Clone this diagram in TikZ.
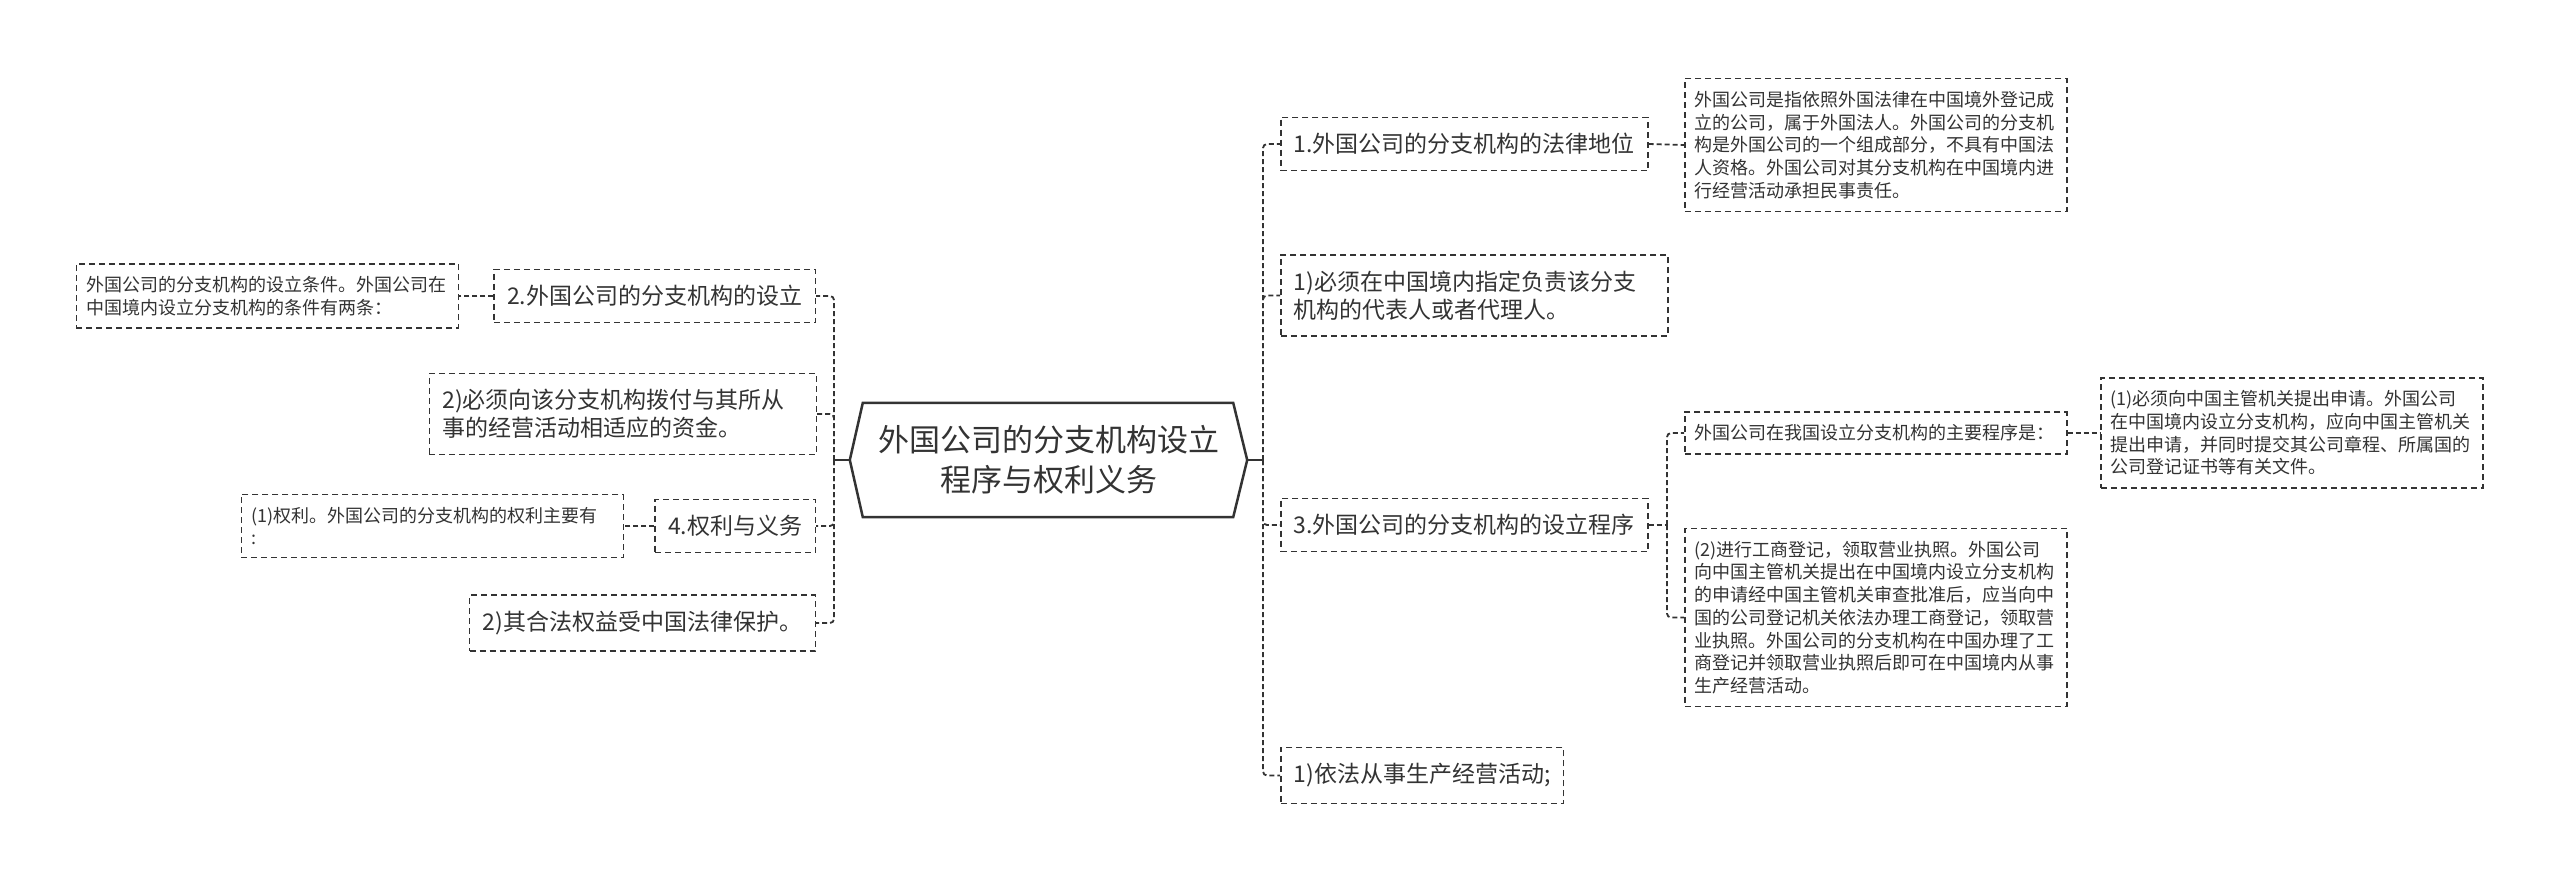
\documentclass[tikz,border=0pt]{standalone}
\usepackage{fontspec}
\setmainfont{Noto Sans CJK SC}
\usetikzlibrary{calc}
\definecolor{ink}{HTML}{333333}
\definecolor{edgecol}{HTML}{333333}
\begin{document}
\begin{tikzpicture}[x=1pt,y=-1pt,
  big/.style={draw=edgecol, line width=1.5pt, dash pattern=on 6pt off 4pt, inner xsep=13pt, inner ysep=16pt, font=\fontsize{23}{28}\selectfont, text=ink, align=left},
  bigw/.style={big, text width=361pt},
  small/.style={draw=edgecol, line width=1.5pt, dash pattern=on 6pt off 4pt, inner xsep=10pt, inner ysep=12.5pt, font=\fontsize{18}{22.7}\selectfont, text=ink, align=left},
  smallw/.style={small, text width=362pt},
  conn/.style={draw=edgecol, line width=1.8pt, dash pattern=on 5pt off 3pt, rounded corners=4pt},
  solidconn/.style={draw=edgecol, line width=2pt}
]
\useasboundingbox (0,0) rectangle (2560,881);
\fill[white] (0,0) rectangle (2560,881);

% root
\node[minimum width=397pt, minimum height=114pt, inner sep=0pt, align=center, text=ink,
  font=\fontsize{31}{40}\selectfont] (root) at (1048.5,460) {外国公司的分支机构设立\\程序与权利义务};
\draw[edgecol, line width=2.5pt, line join=miter]
  (root.west) -- ($(root.north west)+(13,0)$) -- ($(root.north east)+(-14,0)$) -- (root.east)
  -- ($(root.south east)+(-14,0)$) -- ($(root.south west)+(13,0)$) -- cycle;

% right side
\node[big, anchor=west] (n1) at (1280,144) {1.外国公司的分支机构的法律地位};
\node[smallw, anchor=west] (d1) at (1684,145) {外国公司是指依照外国法律在中国境外登记成\\立的公司，属于外国法人。外国公司的分支机\\构是外国公司的一个组成部分，不具有中国法\\人资格。外国公司对其分支机构在中国境内进\\行经营活动承担民事责任。};
\node[bigw, anchor=west] (r2) at (1280,295.5) {1)必须在中国境内指定负责该分支\\机构的代表人或者代理人。};
\node[big, anchor=west] (n3) at (1280,525) {3.外国公司的分支机构的设立程序};
\node[smallw, anchor=west] (s3a) at (1684,433) {外国公司在我国设立分支机构的主要程序是：};
\node[smallw, anchor=west] (d3a) at (2100,433) {(1)必须向中国主管机关提出申请。外国公司\\在中国境内设立分支机构，应向中国主管机关\\提出申请，并同时提交其公司章程、所属国的\\公司登记证书等有关文件。};
\node[smallw, anchor=west] (s3b) at (1684,617.5) {(2)进行工商登记，领取营业执照。外国公司\\向中国主管机关提出在中国境内设立分支机构\\的申请经中国主管机关审查批准后，应当向中\\国的公司登记机关依法办理工商登记，领取营\\业执照。外国公司的分支机构在中国办理了工\\商登记并领取营业执照后即可在中国境内从事\\生产经营活动。};
\node[big, anchor=west] (r4) at (1280,775.5) {1)依法从事生产经营活动;};

% left side
\node[big, anchor=east] (n2) at (816,296) {2.外国公司的分支机构的设立};
\node[smallw, anchor=east] (d2) at (459,296) {外国公司的分支机构的设立条件。外国公司在\\中国境内设立分支机构的条件有两条：};
\node[bigw, anchor=east] (l2) at (817,414) {2)必须向该分支机构拨付与其所从\\事的经营活动相适应的资金。};
\node[big, anchor=east] (n4) at (816,526) {4.权利与义务};
\node[smallw, anchor=east] (d4) at (624,526) {(1)权利。外国公司的分支机构的权利主要有\\:};
\node[big, anchor=east] (l4) at (816,623) {2)其合法权益受中国法律保护。};

% connectors
\coordinate (lt) at (834,460);
\coordinate (rt) at (1263,460);
\coordinate (t3) at (1667,525);
\draw[solidconn] (root.west) -- (lt);
\draw[solidconn] (root.east) -- (rt);
\draw[conn] (rt) |- (n1.west);
\draw[conn] (rt) |- (r2.west);
\draw[conn] (rt) |- (n3.west);
\draw[conn] (rt) |- (r4.west);
\draw[conn] (lt) |- (n2.east);
\draw[conn] (lt) |- (l2.east);
\draw[conn] (lt) |- (n4.east);
\draw[conn] (lt) |- (l4.east);
\draw[conn] (n1.east) -- (d1.west);
\draw[conn] (n3.east) -- (t3);
\draw[conn] (t3) |- (s3a.west);
\draw[conn] (t3) |- (s3b.west);
\draw[conn] (s3a.east) -- (d3a.west);
\draw[conn] (n2.west) -- (d2.east);
\draw[conn] (n4.west) -- (d4.east);
\end{tikzpicture}
\end{document}
